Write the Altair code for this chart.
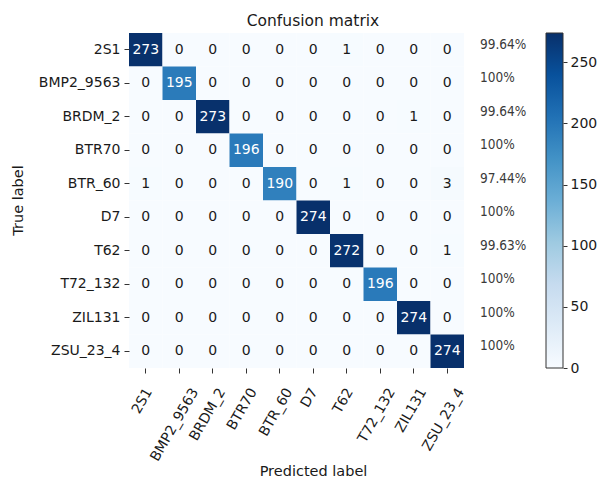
import altair as alt
import numpy as np
import pandas as pd

# Class names (rows = true label, columns = predicted label)
classes = ["2S1", "BMP2_9563", "BRDM_2", "BTR70", "BTR_60",
           "D7", "T62", "T72_132", "ZIL131", "ZSU_23_4"]

# Confusion-matrix rows
row_2s1 = [273, 0, 0, 0, 0, 0, 1, 0, 0, 0]
row_bmp2 = [0, 195, 0, 0, 0, 0, 0, 0, 0, 0]
row_brdm2 = [0, 0, 273, 0, 0, 0, 0, 0, 1, 0]
row_btr70 = [0, 0, 0, 196, 0, 0, 0, 0, 0, 0]
row_btr60 = [1, 0, 0, 0, 190, 0, 1, 0, 0, 3]
row_d7 = [0, 0, 0, 0, 0, 274, 0, 0, 0, 0]
row_t62 = [0, 0, 0, 0, 0, 0, 272, 0, 0, 1]
row_t72 = [0, 0, 0, 0, 0, 0, 0, 196, 0, 0]
row_zil = [0, 0, 0, 0, 0, 0, 0, 0, 274, 0]
row_zsu = [0, 0, 0, 0, 0, 0, 0, 0, 0, 274]

matrix = [row_2s1, row_bmp2, row_brdm2, row_btr70, row_btr60,
          row_d7, row_t62, row_t72, row_zil, row_zsu]

# Colorbar ticks
cbar_ticks = [0, 50, 100, 150, 200, 250]

# matplotlib "Blues" colour stops
blues = ["#f7fbff", "#deebf7", "#c6dbef", "#9ecae1", "#6baed6",
         "#4292c6", "#2171b5", "#08519c", "#08306b"]

vmax = max(max(r) for r in matrix)
stops = list(np.linspace(0, vmax, len(blues)))

cells = pd.DataFrame(
    [{"true": classes[i], "pred": classes[j], "value": matrix[i][j]}
     for i in range(len(classes)) for j in range(len(classes))]
)


def pct_label(row, i):
    p = 100.0 * row[i] / sum(row)
    return f"{p:.2f}".rstrip("0").rstrip(".") + "%"


acc = pd.DataFrame({"true": classes,
                    "pct": [pct_label(r, i) for i, r in enumerate(matrix)]})

cbar = pd.DataFrame({"lo": [0], "hi": [vmax]})

FONT = "DejaVu Sans"
PCT_FONT = "Liberation Sans Narrow, DejaVu Sans Condensed, Liberation Sans"
W = H = 335
color_scale = alt.Scale(domain=stops, range=blues, interpolate="rgb")

xs = alt.X(
    "pred:N", sort=classes,
    scale=alt.Scale(paddingInner=0, paddingOuter=0),
    axis=alt.Axis(
        orient="bottom", title="Predicted label", titleFontSize=14.5,
        titleFontWeight="normal", titleX=184, titleY=103,
        titleBaseline="middle", titleAlign="center",
        labelAngle=300, labelAlign="right", labelBaseline="middle",
        labelPadding=16, labelFontSize=14,
        labelOffset={"expr": "length(datum.label) * 2.1 - 3"},
        tickSize=5, domain=False, grid=False,
    ),
)
ys = alt.Y(
    "true:N", sort=classes,
    scale=alt.Scale(paddingInner=0, paddingOuter=0),
    axis=alt.Axis(
        title="True label", titleFontSize=14.5, titleFontWeight="normal",
        titleX=-111, titleY=167, titleAngle=270, titleBaseline="middle",
        titleAlign="center", labelFontSize=14, labelPadding=4,
        tickSize=5, domain=False, grid=False,
    ),
)

heat = alt.Chart(cells).mark_rect().encode(
    x=xs, y=ys,
    color=alt.Color("value:Q", scale=color_scale, legend=None),
)

nums = alt.Chart(cells).mark_text(font=FONT, fontSize=14, baseline="middle").encode(
    x=alt.X("pred:N", sort=classes),
    y=alt.Y("true:N", sort=classes),
    text="value:Q",
    color=alt.condition(alt.datum.value > vmax / 2,
                        alt.value("white"), alt.value("#1a1a1a")),
)

pcts = alt.Chart(acc).mark_text(
    font=PCT_FONT, fontSize=13.5, align="left", baseline="middle", dy=-5,
    color="#3a3a3a",
).encode(
    x=alt.value(351),
    y=alt.Y("true:N", sort=classes),
    text="pct:N",
)

# Colorbar: one rect filled with the Blues gradient, bottom (0) to top (vmax)
gradient = alt.LinearGradient(
    gradient="linear",
    stops=[alt.GradientStop(color=c, offset=float(k) / (len(blues) - 1))
           for k, c in enumerate(blues)],
    x1=0, x2=0, y1=1, y2=0,
)

colorbar = alt.Chart(cbar).mark_rect(
    fill=gradient, stroke="#333333", strokeWidth=1
).encode(
    x=alt.value(417), x2=alt.value(434),
    y=alt.Y(
        "lo:Q",
        scale=alt.Scale(domain=[0, vmax], nice=False),
        axis=alt.Axis(
            orient="right", offset=99, values=cbar_ticks, title=None,
            labelFontSize=14, labelPadding=3, tickSize=4, domain=False,
            grid=False,
        ),
    ),
    y2="hi:Q",
)

chart = alt.layer(
    alt.layer(heat, nums, pcts),
    colorbar,
).resolve_scale(y="independent").properties(
    width=W, height=H,
    title=alt.Title("Confusion matrix", fontSize=15.5, fontWeight="normal",
                    font=FONT, anchor="middle", frame="group", dx=16.5,
                    dy=17, offset=8, baseline="alphabetic", color="#1a1a1a"),
    autosize=alt.AutoSizeParams(type="none"),
    padding={"left": 129, "top": 33, "right": 137, "bottom": 113},
).configure(
    font=FONT,
).configure_axis(
    labelFont=FONT, titleFont=FONT, labelColor="#1a1a1a",
    titleColor="#1a1a1a", tickColor="#333333",
).configure_view(stroke=None)

chart.save("out.html", embed_options={"renderer": "svg", "actions": False})
